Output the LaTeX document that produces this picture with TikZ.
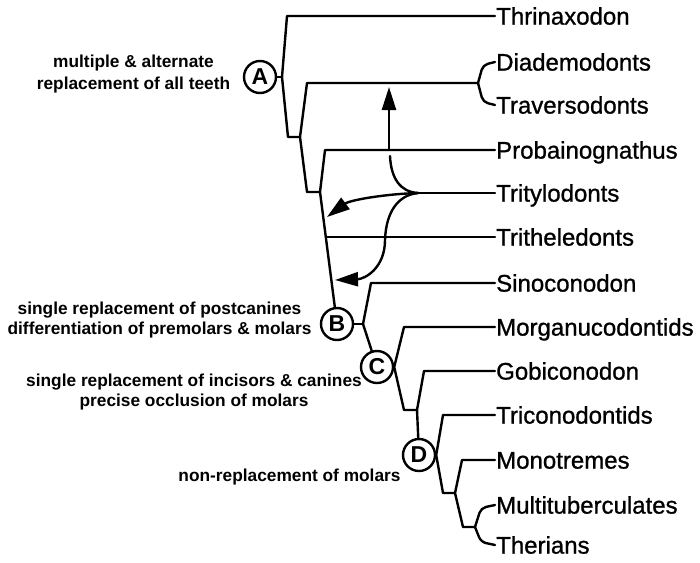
\documentclass[tikz,border=0pt]{standalone}
\usepackage{fontspec}
\setmainfont{Liberation Sans}
\newfontfamily\taxfont[FakeBold=1]{Liberation Sans}
\usetikzlibrary{arrows.meta}
\begin{document}
\begin{tikzpicture}[x=1pt,y=-1pt,line width=2.4pt,line join=round,line cap=round,
  taxon/.style={anchor=west,inner sep=0pt,text height=17.2pt,text depth=0pt,font=\taxfont\fontsize{24}{28}\selectfont},
  note/.style={align=center,inner sep=0pt,font=\bfseries\fontsize{17.3}{20}\selectfont},
  clade/.style={circle,draw,line width=2.4pt,minimum size=32pt,inner sep=0pt,font=\bfseries\fontsize{23}{23}\selectfont},
  arr/.style={-{Triangle[length=23pt,width=14pt]}}]
\useasboundingbox (0,0) rectangle (700,562);
% taxa
\node[taxon] (thr) at (495,16) {Thrinaxodon};
\node[taxon] (dia) at (495,62) {Diademodonts};
\node[taxon] (tra) at (495,105) {Traversodonts};
\node[taxon] (pro) at (495,150) {Probainognathus};
\node[taxon] (trl) at (495,193) {Tritylodonts};
\node[taxon] (trh) at (495,237) {Tritheledonts};
\node[taxon] (sin) at (495,283) {Sinoconodon};
\node[taxon] (mor) at (495,327) {Morganucodontids};
\node[taxon] (gob) at (495,371) {Gobiconodon};
\node[taxon] (tri) at (495,415) {Triconodontids};
\node[taxon] (mon) at (495,460) {Monotremes};
\node[taxon] (mul) at (495,505) {Multituberculates};
\node[taxon] (the) at (495,545) {Therians};
% clade markers
\node[clade] (A) at (260,77) {A};
\node[clade] (B) at (337,324) {B};
\node[clade] (C) at (377,367) {C};
\node[clade] (D) at (419,455) {D};
% annotations
\node[note,font=\bfseries\fontsize{17.3}{22}\selectfont] (na) at (133.5,74.5) {multiple \& alternate\\replacement of all teeth};
\node[note] (nb) at (159.5,320.5) {single replacement of postcanines\\differentiation of premolars \& molars};
\node[note] (nc) at (194,392.5) {single replacement of incisors \& canines\\precise occlusion of molars};
\node[note,anchor=base] (nd) at (289.5,481) {non-replacement of molars};
% junction coordinates
\coordinate (a1) at (287,16);
\coordinate (a2) at (282,77);
\coordinate (a3) at (288,137);
\coordinate (j1) at (300,137);
\coordinate (j1u) at (307,83);
\coordinate (j2) at (478,83);
\coordinate (j2u) at (483,65);
\coordinate (j2d) at (483,102);
\coordinate (j1d) at (307,192);
\coordinate (j3) at (320,192);
\coordinate (j3u) at (325,150);
\coordinate (tt) at (326,237);
\coordinate (b1) at (363,324);
\coordinate (b1u) at (371,283);
\coordinate (c1) at (404,327);
\coordinate (c2) at (404,410);
\coordinate (j4) at (417,410);
\coordinate (j4u) at (424,371);
\coordinate (d1) at (443,415);
\coordinate (d2) at (443,493);
\coordinate (j5) at (455,493);
\coordinate (j5u) at (462,460);
\coordinate (j5d) at (463,527);
\coordinate (j6) at (475,527);
\coordinate (j6u) at (481,508);
\coordinate (j6d) at (481,542);
% tree
\draw (thr.west) -- (a1) -- (a2) -- (a3) -- (j1);
\draw (A) -- (a2);
\draw (j1) -- (j1u) -- (j2);
\draw[rounded corners=5pt] (j2) -- (j2u) -- (dia.west);
\draw[rounded corners=5pt] (j2) -- (j2d) -- (tra.west);
\draw (j1) -- (j1d) -- (j3);
\draw (j3) -- (j3u) -- (pro.west);
\draw (j3) -- (B);
\draw (tt) -- (trh.west);
\draw (B.east) -- (b1);
\draw (b1) -- (b1u) -- (sin.west);
\draw (b1) -- (C);
\draw (mor.west) -- (c1) -- (C.east) -- (c2) -- (j4);
\draw (j4) -- (j4u) -- (gob.west);
\draw (j4) -- (D);
\draw (tri.west) -- (d1) -- (D.east) -- (d2) -- (j5);
\draw (j5) -- (j5u) -- (mon.west);
\draw (j5) -- (j5d) -- (j6);
\draw[rounded corners=5pt] (j6) -- (j6u) -- (mul.west);
\draw[rounded corners=5pt] (j6) -- (j6d) -- (the.west);
% Tritylodonts and arrows
\coordinate (tr0) at (418,193);
\coordinate (p0) at (389,150);
\coordinate (p1) at (389,87);
\coordinate (p2) at (390,156);
\coordinate (t1) at (327,217);
\coordinate (m2) at (385,240);
\coordinate (t2) at (335,280);
\draw (tr0) -- (trl.west);
\draw[arr] (p0) -- (p1);
\draw (p2) .. controls (391,178) and (400,192) .. (tr0);
\draw[arr] (tr0) .. controls (385,194) and (350,200) .. (t1);
\draw[arr] (tr0) .. controls (398,195) and (386,212) .. (m2) .. controls (385,268) and (365,279) .. (t2);
\end{tikzpicture}
\end{document}
